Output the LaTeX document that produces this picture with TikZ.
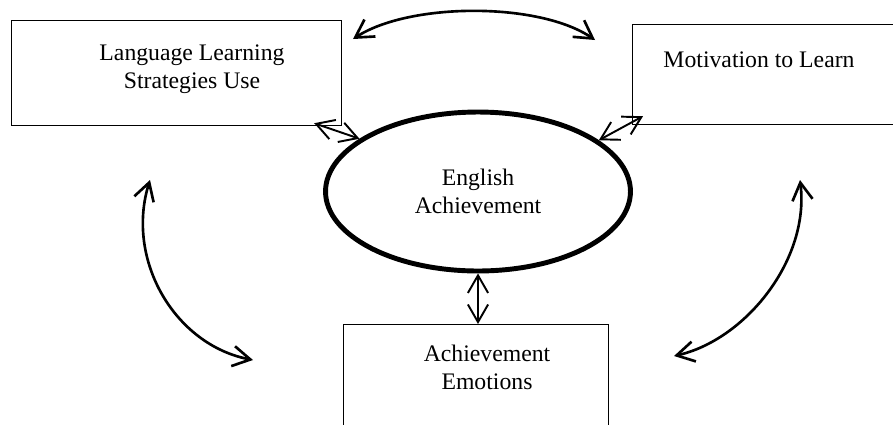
\documentclass[tikz,border=0pt]{standalone}
\usepackage{fontspec}
\setmainfont{Liberation Serif}
\usetikzlibrary{arrows.meta}
\usetikzlibrary{shapes.geometric, positioning}
\newcommand{\boxlw}{0.7pt}
\newcommand{\tiplen}{10pt}
\newcommand{\tipwid}{11.5pt}
\tikzset{
  factor/.style={draw, rectangle, line width=\boxlw, inner sep=0pt, anchor=north west},
  outcome/.style={draw, ellipse, line width=2.8pt, inner sep=0pt, minimum width=6.1cm, minimum height=3.18cm, align=center, font=\fontsize{13.5}{16}\selectfont},
  boxtext/.style={align=center, font=\fontsize{13.5}{16}\selectfont},
  bigarc/.style={line width=1.5pt, line cap=round, <->, >={Straight Barb[length=\tiplen, width=\tipwid]}},
  link/.style={line width=1.1pt, line cap=round, <->, >={Straight Barb[length=\tiplen, width=\tipwid]}}
}

\begin{document}
\begin{tikzpicture}[x=0.02cm, y=-0.02cm]
\path[use as bounding box, clip] (0,0) rectangle (893,424);

% the three factors
\node[factor, minimum width=6.6cm, minimum height=2.1cm] (lls) at (11,20) {};
\node[factor, minimum width=5.4cm, minimum height=2cm] (mtl) at (632,24) {};
\node[factor, minimum width=5.3cm, minimum height=2.2cm] (ae) at (343,324) {};
\node[boxtext] (llsT) at (192,69) {Language Learning\\Strategies Use};
\node[boxtext] (mtlT) at (759,60) {Motivation to Learn};
\node[boxtext] (aeT) at (487,367.5) {Achievement\\Emotions};

% outcome
\node[outcome] (ea) at (478,191.5) {English\\Achievement};

\draw[link] ([shift={(-28,-3)}]lls.south east) -- (ea.156);
\draw[link] (ea.23) -- ([shift={(11,-9)}]mtl.south west);
\draw[link] (ea.south) -- (ea.south |- ae.north);

% arcs between the factors
\coordinate (topL) at (353,39);
\coordinate (topR) at (595,40);
\coordinate (leftU) at (150,180);
\coordinate (leftD) at (253,360);
\coordinate (rightU) at (800,180);
\coordinate (rightD) at (674,356);
\draw[bigarc] (topL) .. controls (410,2) and (540,2) .. (topR);
\draw[bigarc] (leftU) .. controls (125,260) and (175,345) .. (leftD);
\draw[bigarc] (rightU) .. controls (810,260) and (745,340) .. (rightD);

\end{tikzpicture}
\end{document}
